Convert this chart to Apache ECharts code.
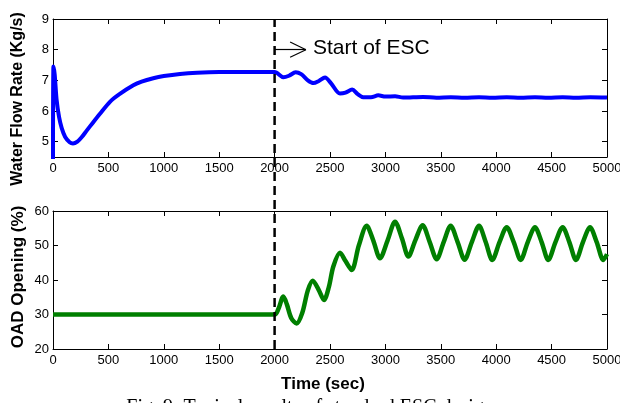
<!DOCTYPE html>
<html>
<head>
<meta charset="utf-8">
<title>ESC results</title>
<script src="https://cdn.jsdelivr.net/npm/echarts@6/dist/echarts.min.js"></script>
<style>
  html, body { margin: 0; padding: 0; background: #fff; }
  #chart { width: 620px; height: 403px; }
</style>
</head>
<body>
<div id="chart"></div>
<script>
// water flow rate (kg/s) vs time (sec)
const flowTime = [0, 4, 15, 33, 55, 78, 110, 150, 180, 220, 260, 304, 360, 424, 514, 600, 725, 800, 905, 1000, 1146, 1300, 1500, 2000,
  2080, 2130, 2190, 2240, 2300, 2350, 2400, 2455, 2510, 2590, 2640, 2700, 2750, 2800, 2870, 2936, 3000, 3087, 3160,
  3340, 3460, 3590, 3715, 3845, 3965, 4095, 4220, 4350, 4470, 4600, 4720, 4850, 5000]
const flowRate = [4.3, 7.45, 7.2, 6.35, 5.8, 5.45, 5.15, 4.98, 4.94, 5.0, 5.15, 5.36, 5.62, 5.91, 6.3, 6.55, 6.84, 6.96, 7.07, 7.14, 7.21, 7.25, 7.27, 7.27,
  7.1, 7.15, 7.26, 7.2, 7.0, 6.91, 6.98, 7.09, 6.9, 6.57, 6.6, 6.7, 6.55, 6.45, 6.45, 6.51, 6.47, 6.48, 6.44,
  6.46, 6.43, 6.45, 6.43, 6.45, 6.43, 6.45, 6.43, 6.45, 6.43, 6.45, 6.43, 6.45, 6.44]

// OAD opening (%) vs time (sec)
const oadTime = [0, 2000, 2033, 2079, 2110, 2150, 2199, 2250, 2300, 2344, 2400, 2446, 2490, 2530, 2590, 2640, 2696, 2760, 2831, 2890, 2951,
  3020, 3087, 3150, 3207, 3270, 3336, 3400, 3463, 3526, 3589, 3652, 3715, 3780, 3845, 3905, 3965, 4030, 4095, 4158, 4221,
  4285, 4350, 4410, 4470, 4535, 4600, 4660, 4720, 4783, 4847, 4907, 4967, 5000]
const oadOpening = [30, 30, 31.5, 35.2, 33, 29, 27.4, 30.5, 37, 39.8, 37, 34.2, 38, 43.9, 47.9, 45.5, 42.9, 50, 55.7, 51.5, 46.3,
  51.5, 56.9, 52, 46.8, 51.5, 55.9, 51, 46.0, 51, 55.7, 51, 45.9, 51, 55.7, 51, 45.8, 51, 55.3, 51, 45.8,
  51, 55.3, 51, 45.8, 51, 55.3, 51, 45.8, 51, 55.3, 51, 45.8, 47.5]

const flowTicks = [5, 6, 7, 8, 9]
const escStart = 2000
const escArrow = { y: 8, tip: 2283, back: 2140, spread: 0.25 }

const zip = (xs, ys) => xs.map((x, i) => [x, ys[i]])

const chart = echarts.init(document.getElementById('chart'), null, { renderer: 'canvas' })

const font = 'Liberation Sans, Arial, Helvetica, sans-serif'
const axisLine = { show: true, onZero: false, lineStyle: { color: '#000', width: 1 } }
const tickIn = { show: true, inside: true, length: 5, lineStyle: { color: '#000' } }
const tickLabel = { color: '#000', fontSize: 13, fontFamily: font, formatter: v => String(v) }

function timeAxis (grid, position, labels) {
  return {
    type: 'value', gridIndex: grid, position: position,
    min: 0, max: 5000, interval: 500,
    axisLine: axisLine, axisTick: tickIn, splitLine: { show: false },
    axisLabel: Object.assign({ show: labels, margin: 5, showMinLabel: true, showMaxLabel: true, hideOverlap: false }, tickLabel)
  }
}

chart.setOption({
  animation: false,
  backgroundColor: '#fff',
  grid: [
    { left: 53, right: 13, top: 19, height: 138, outerBoundsMode: 'none', containLabel: false },
    { left: 53, right: 13, top: 211, height: 138, outerBoundsMode: 'none', containLabel: false },
    { left: 53, right: 13, top: 19, height: 330, outerBoundsMode: 'none', containLabel: false }
  ],
  xAxis: [
    timeAxis(0, 'bottom', true),
    timeAxis(0, 'top', false),
    timeAxis(1, 'bottom', true),
    timeAxis(1, 'top', false),
    { type: 'value', gridIndex: 2, min: 0, max: 5000, show: false }
  ],
  yAxis: [
    {
      type: 'value', gridIndex: 0, position: 'left', min: 4.5, max: 9,
      axisLine: axisLine, splitLine: { show: false },
      axisTick: Object.assign({ customValues: flowTicks }, tickIn),
      axisLabel: Object.assign({ customValues: flowTicks, margin: 4 }, tickLabel)
    },
    {
      type: 'value', gridIndex: 0, position: 'right', min: 4.5, max: 9,
      axisLine: axisLine, splitLine: { show: false },
      axisTick: Object.assign({ customValues: flowTicks }, tickIn),
      axisLabel: { show: false }
    },
    {
      type: 'value', gridIndex: 1, position: 'left', min: 20, max: 60, interval: 10,
      axisLine: axisLine, splitLine: { show: false }, axisTick: tickIn,
      axisLabel: Object.assign({ margin: 4 }, tickLabel)
    },
    {
      type: 'value', gridIndex: 1, position: 'right', min: 20, max: 60, interval: 10,
      axisLine: axisLine, splitLine: { show: false }, axisTick: tickIn,
      axisLabel: { show: false }
    },
    { type: 'value', gridIndex: 2, min: 0, max: 1, show: false }
  ],
  series: [
    {
      type: 'line', xAxisIndex: 0, yAxisIndex: 0,
      data: zip(flowTime, flowRate),
      smooth: 0.3, showSymbol: false, clip: true,
      lineStyle: { color: '#0000ff', width: 4 },
      markLine: {
        silent: true, symbol: 'none', animation: false,
        label: { show: false },
        lineStyle: { color: '#000', width: 1.2, type: 'solid' },
        data: [
          [{ coord: [escStart, escArrow.y] }, { coord: [escArrow.tip, escArrow.y] }],
          [{ coord: [escArrow.back, escArrow.y + escArrow.spread] }, { coord: [escArrow.tip, escArrow.y] }],
          [{ coord: [escArrow.back, escArrow.y - escArrow.spread] }, { coord: [escArrow.tip, escArrow.y] }]
        ]
      }
    },
    {
      type: 'line', xAxisIndex: 2, yAxisIndex: 2,
      data: zip(oadTime, oadOpening),
      smooth: 0.3, showSymbol: false,
      lineStyle: { color: '#007f00', width: 4.5 }
    },
    {
      type: 'line', xAxisIndex: 4, yAxisIndex: 4, z: 5,
      data: [[escStart, 0], [escStart, 1]],
      showSymbol: false,
      lineStyle: { color: '#000', width: 2.5, type: [9, 5] }
    }
  ],
  graphic: [
    {
      type: 'text', x: 18, y: 99, rotation: Math.PI / 2,
      style: { text: 'Water Flow Rate (Kg/s)', textAlign: 'center', textVerticalAlign: 'middle',
        font: 'bold 16px ' + font, fill: '#000' }
    },
    {
      type: 'text', x: 18, y: 277, rotation: Math.PI / 2,
      style: { text: 'OAD Opening (%)', textAlign: 'center', textVerticalAlign: 'middle',
        font: 'bold 17px ' + font, fill: '#000' }
    },
    {
      type: 'text', x: 323, y: 384,
      style: { text: 'Time (sec)', textAlign: 'center', textVerticalAlign: 'middle',
        font: 'bold 17px ' + font, fill: '#000' }
    },
    {
      type: 'text', x: 313, y: 48,
      style: { text: 'Start of ESC', textAlign: 'left', textVerticalAlign: 'middle',
        font: '21px ' + font, fill: '#000' }
    },
    {
      type: 'text', x: 310, y: 398,
      style: { text: 'Fig. 9: Typical results of standard ESC design', textAlign: 'center', textVerticalAlign: 'top',
        font: '20px "Liberation Serif", "Times New Roman", serif', fill: '#000' }
    }
  ]
})
</script>
</body>
</html>
